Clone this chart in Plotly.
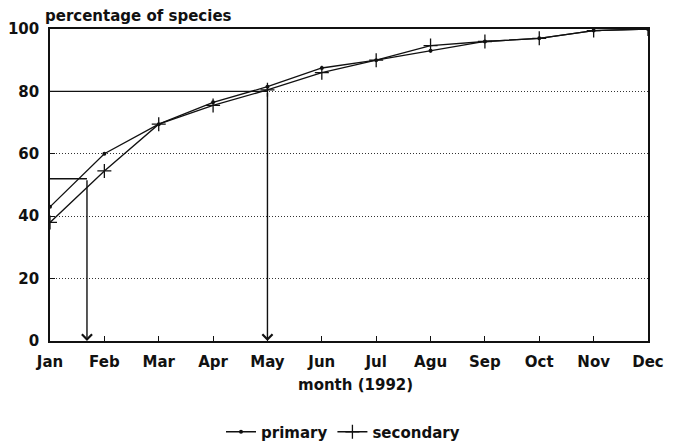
import plotly.graph_objects as go

months = ["Jan", "Feb", "Mar", "Apr", "May", "Jun", "Jul", "Agu", "Sep", "Oct", "Nov", "Dec"]
primary = [43, 60, 69.5, 76.5, 81.5, 87.5, 90, 93, 96, 97, 99.5, 100]
secondary = [38, 54.5, 69.5, 75.5, 80.5, 86, 90, 94.7, 96, 97, 99.5, 100]
y_ticks = [0, 20, 40, 60, 80, 100]
guide_levels = [52, 80]
guide_months = [0.68, 4]     # month position where the guide arrow meets the axis

INK = "#111111"
FONT = "DejaVu Sans"
FS = 15
x = list(range(len(months)))

# the page body has an 8px margin, so the figure is sized to fill the rest
W, H = 667, 436
OFF = 8
L, R, T, B = 42, 27, 21, 103
PW, PH = W - L - R, H - T - B


def px(xp):
    return (xp - OFF - L) / PW


def py(yp):
    return (H - B - (yp - OFF)) / PH


fig = go.Figure()
fig.add_trace(go.Scatter(
    x=x, y=primary, mode="lines+markers", name="<b>primary</b>",
    line=dict(color=INK, width=1.3),
    marker=dict(symbol="circle", size=4, color=INK)))
fig.add_trace(go.Scatter(
    x=x, y=secondary, mode="lines+markers", name="<b>secondary</b>",
    line=dict(color=INK, width=1.3),
    marker=dict(symbol="cross-thin", size=10, color=INK, line=dict(color=INK, width=1.3))))

for lvl, m in zip(guide_levels, guide_months):
    fig.add_trace(go.Scatter(
        x=[0, m], y=[lvl, lvl], mode="lines", showlegend=False, hoverinfo="skip",
        line=dict(color=INK, width=1.4)))
    fig.add_annotation(
        x=m, y=0, ax=m, ay=lvl, xref="x", yref="y", axref="x", ayref="y",
        text="", showarrow=True, arrowhead=4, arrowsize=1.4, arrowwidth=1.4,
        arrowcolor=INK)

fig.add_annotation(
    text="<b>percentage of species</b>", xref="paper", yref="paper",
    x=px(43), y=py(16), xanchor="left", yanchor="middle",
    showarrow=False, font=dict(family=FONT, size=FS, color=INK))
fig.add_annotation(
    text="<b>month (1992)</b>", xref="paper", yref="paper",
    x=px(355), y=py(385), xanchor="center", yanchor="middle",
    showarrow=False, font=dict(family=FONT, size=FS, color=INK))

fig.update_xaxes(
    range=[0, 11], tickvals=x, ticktext=[f"<b>{m}</b>" for m in months],
    ticks="inside", ticklen=5,
    tickcolor=INK, showgrid=False, zeroline=False, showline=True, mirror=True,
    linecolor=INK, linewidth=1.6, ticklabelstandoff=6, automargin=False,
    tickfont=dict(family=FONT, size=FS, color=INK))
fig.update_yaxes(
    range=[0, 100], tickvals=y_ticks, ticktext=[f"<b>{v}</b>" for v in y_ticks],
    ticks="inside", ticklen=5, tickcolor=INK,
    showgrid=True, gridcolor="#333333", gridwidth=1, griddash="1px,2px",
    zeroline=False, showline=True, mirror=True, linecolor=INK, linewidth=1.6,
    ticklabelstandoff=6, automargin=False,
    tickfont=dict(family=FONT, size=FS, color=INK))

fig.update_layout(
    width=W, height=H,
    margin=dict(l=L, r=R, t=T, b=B, autoexpand=False),
    paper_bgcolor="white", plot_bgcolor="white",
    showlegend=True,
    legend=dict(orientation="h", x=px(343), xanchor="center",
                y=py(432), yanchor="middle", itemwidth=30,
                font=dict(family=FONT, size=FS, color=INK),
                bgcolor="rgba(0,0,0,0)"),
    font=dict(family=FONT, color=INK))

fig.write_html("out.html")
